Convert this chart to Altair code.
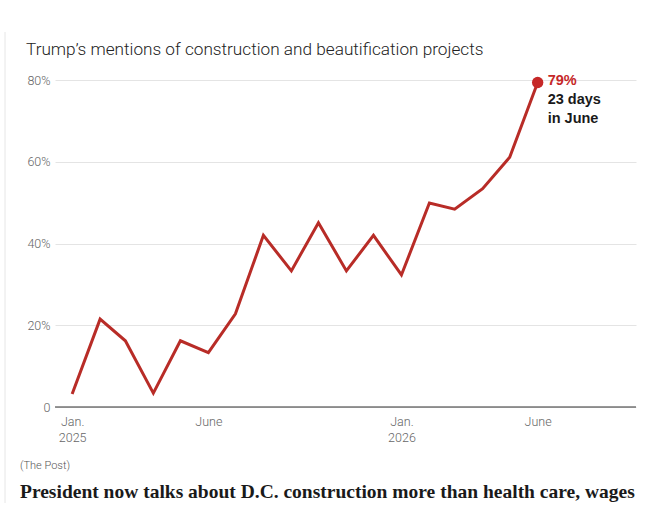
import altair as alt
import pandas as pd

months = ["2025-01-01", "2025-02-01", "2025-03-01", "2025-04-01", "2025-05-01", "2025-06-01",
          "2025-07-01", "2025-08-01", "2025-09-01", "2025-10-01", "2025-11-01", "2025-12-01",
          "2026-01-01", "2026-02-01", "2026-03-01", "2026-04-01", "2026-05-01", "2026-06-01"]
share = [3.2, 21.5, 16.2, 3.4, 16.2, 13.3, 22.8, 42.0, 33.3, 45.1, 33.3, 42.0,
         32.3, 49.9, 48.4, 53.4, 61.1, 79.4]
y_ticks = [0, 20, 40, 60, 80]
annot_lines = ["79%", "23 days", "in June"]

title = "Trump\u2019s mentions of construction and beautification projects"
source = "(The Post)"
headline = "President now talks about D.C. construction more than health care, wages"

df = pd.DataFrame({"month": months, "share": share})
last = df.tail(1)

W, H = 581, 327
FONT = "Roboto"
ANN_FONT = "Liberation Sans"

x_scale = alt.Scale(type="utc",
                    domain=[alt.DateTime(year=2024, month=12, date=13, utc=True),
                            alt.DateTime(year=2026, month=9, date=18, utc=True)])
y_scale = alt.Scale(domain=[0, 80], nice=False)

x_axis = alt.Axis(
    values=[alt.DateTime(year=2025, month=1, date=1, utc=True),
            alt.DateTime(year=2025, month=6, date=1, utc=True),
            alt.DateTime(year=2026, month=1, date=1, utc=True),
            alt.DateTime(year=2026, month=6, date=1, utc=True)],
    labelExpr="utcmonth(datum.value) == 0 ? ['Jan.', utcFormat(datum.value, '%Y')] : 'June'",
    title=None, domain=False, ticks=False, grid=False,
    labelFont=FONT, labelFontSize=12.5, labelColor="#666666", labelPadding=8,
    labelLineHeight=16, labelFontWeight=300,
)
y_axis = alt.Axis(
    values=y_ticks, title=None, domain=False, ticks=False,
    grid=True, gridColor="#e4e4e4", gridWidth=1,
    labelExpr="datum.value == 0 ? '0' : datum.value + '%'",
    labelFont=FONT, labelFontSize=12.5, labelColor="#666666", labelPadding=5,
    labelFontWeight=300,
)

base = alt.Chart(df)

line = base.mark_line(color="#b82c27", strokeWidth=3, strokeJoin="miter").encode(
    x=alt.X("month:T", scale=x_scale, axis=x_axis),
    y=alt.Y("share:Q", scale=y_scale, axis=y_axis),
)

zero = alt.Chart(pd.DataFrame({"v": [0]})).mark_rule(color="#333333", strokeWidth=1.2).encode(
    y=alt.Y("v:Q", scale=y_scale), x=alt.value(0), x2=alt.value(W)
)

dot = alt.Chart(last).mark_circle(color="#c62828", size=130, opacity=1).encode(
    x=alt.X("month:T", scale=x_scale), y=alt.Y("share:Q", scale=y_scale)
)

ann_df = pd.DataFrame({"month": [months[-1]] * 3, "share": [share[-1]] * 3,
                       "txt": annot_lines, "i": [0, 1, 2]})
ann_red = alt.Chart(ann_df[ann_df.i == 0]).mark_text(
    align="left", baseline="middle", dx=10, dy=-1, font=ANN_FONT, fontSize=14.5,
    fontWeight="bold", color="#c62828"
).encode(x=alt.X("month:T", scale=x_scale), y=alt.Y("share:Q", scale=y_scale), text="txt:N")
ann_k1 = alt.Chart(ann_df[ann_df.i == 1]).mark_text(
    align="left", baseline="middle", dx=10, dy=18, font=ANN_FONT, fontSize=14.5,
    fontWeight="bold", color="#1a1a1a"
).encode(x=alt.X("month:T", scale=x_scale), y=alt.Y("share:Q", scale=y_scale), text="txt:N")
ann_k2 = alt.Chart(ann_df[ann_df.i == 2]).mark_text(
    align="left", baseline="middle", dx=10, dy=37, font=ANN_FONT, fontSize=14.5,
    fontWeight="bold", color="#1a1a1a"
).encode(x=alt.X("month:T", scale=x_scale), y=alt.Y("share:Q", scale=y_scale), text="txt:N")

title_t = alt.Chart(pd.DataFrame({"t": [title]})).mark_text(
    align="left", baseline="middle", font=FONT, fontSize=17.2, fontWeight=300, color="#222222"
).encode(x=alt.value(-29), y=alt.value(-30), text="t:N")

source_t = alt.Chart(pd.DataFrame({"t": [source]})).mark_text(
    align="left", baseline="middle", font=FONT, fontSize=11, fontWeight=300, color="#555555"
).encode(x=alt.value(-35), y=alt.value(386), text="t:N")

head_t = alt.Chart(pd.DataFrame({"t": [headline]})).mark_text(
    align="left", baseline="middle", font="Liberation Serif", fontSize=19.5,
    fontWeight="bold", color="#1a1a1a"
).encode(x=alt.value(-35), y=alt.value(412), text="t:N")

border = alt.Chart(pd.DataFrame({"v": [0]})).mark_rule(color="#e6e6e6", strokeWidth=1).encode(
    x=alt.value(-50), y=alt.value(-48), y2=alt.value(423)
)

chart = alt.layer(
    border, line, zero, dot, ann_red, ann_k1, ann_k2, title_t, source_t, head_t
).properties(
    width=W, height=H,
    background="white",
    autosize=alt.AutoSizeParams(type="none"),
    padding={"left": 55, "top": 80, "right": 25, "bottom": 123},
).configure_view(stroke=None)

chart.save("out.html", embed_options={"renderer": "svg", "actions": False})
